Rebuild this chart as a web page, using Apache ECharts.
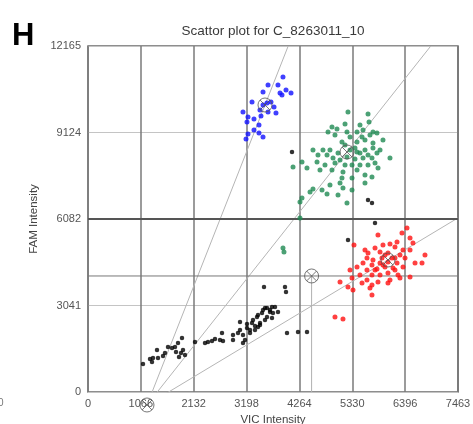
<!DOCTYPE html>
<html><head><meta charset="utf-8">
<script src="https://cdn.jsdelivr.net/npm/echarts@6/dist/echarts.min.js"></script>
<style>html,body{margin:0;padding:0;background:#fff}#c{width:473px;height:424px}</style>
</head><body><div id="c"></div>
<script>
// ---- data ----
const xMax = 7463, yMax = 12165;
const xTickLabels = ['0','1066','2132','3198','4264','5330','6396','7463'];
const yTickLabels = ['0','3041','6082','9124','12165'];
const famThreshold = 6082;
const midLevel = 4079;
const midX = 4510;

const blueAllele = [[3933,11075],[3631,10794],[3832,10794],[3530,10548],[3994,10618],[4095,10513],[3913,10443],[3308,10196],[3691,10196],[3530,10091],[3610,10161],[3752,10021],[3469,9915],[3631,9845],[3792,9810],[3126,9845],[3227,9669],[3207,9493],[3348,9599],[3489,9704],[3449,9388],[3348,9212],[3227,9071],[3449,9106],[3530,8966],[3187,8895],[3873,10513]];

const greenHet = [[5244,9845],[5648,9774],[5184,9423],[5486,9388],[5668,9493],[4921,9317],[5022,9247],[4841,9142],[5224,9142],[5426,9142],[5547,9212],[5748,9142],[5829,9106],[4982,9036],[5285,8966],[5527,8966],[5688,9036],[5123,8790],[5426,8790],[5748,8755],[5950,8860],[4740,8509],[4881,8509],[4538,8509],[5587,8509],[5748,8579],[5890,8509],[4639,8333],[4821,8333],[5043,8403],[5486,8403],[5648,8333],[5829,8403],[6091,8227],[4942,8227],[5224,8263],[5385,8192],[5547,8227],[4316,8087],[4619,8087],[4780,7981],[4982,8052],[5184,7981],[5325,7981],[5486,7981],[5648,7981],[5789,8052],[4135,7911],[4417,7876],[4679,7806],[4921,7806],[5143,7735],[5426,7806],[5587,7630],[5728,7559],[5123,7524],[5325,7524],[5083,7348],[4881,7278],[5143,7173],[5325,7102],[4538,7137],[4720,7102],[4478,7032],[4821,6962],[5043,6927],[4316,6821],[4276,6680],[5224,6645],[4276,6118],[3933,5063],[3953,4922],[5285,8509],[5385,8579],[5184,8685],[5587,8860],[5083,8157],[5426,8438],[5728,8227],[5587,7348],[5850,7876]];

const redAllele = [[6434,5766],[6333,5590],[5849,5520],[6495,5415],[6233,5274],[6555,5239],[5365,5169],[5950,5169],[6091,5204],[6192,5098],[5789,5063],[6354,4993],[5648,4887],[5890,4922],[6051,4887],[6293,4817],[6495,4993],[6797,4817],[5627,4711],[5748,4641],[5930,4711],[6192,4711],[6394,4711],[5547,4536],[5728,4465],[5890,4536],[6051,4571],[6233,4536],[6596,4536],[6737,4536],[5426,4395],[5627,4290],[5829,4325],[5990,4395],[6152,4360],[6354,4395],[5285,4290],[5486,4114],[5728,4114],[5890,4114],[6051,4184],[6253,4114],[6495,4043],[5325,4008],[5627,3938],[5849,3868],[6091,3938],[6293,4008],[5527,3832],[5728,3762],[6051,3832],[5083,3868],[5244,3692],[5345,3586],[5688,3657],[5728,3411],[4982,2637],[5143,2567],[5990,4817],[6131,4711],[5789,4290],[6192,4290],[5587,4993],[5950,4465]];

const blackUndetermined = [[1109,984],[1251,1160],[1291,1055],[1311,1195],[1392,1477],[1412,1195],[1513,1266],[1553,1371],[1614,1582],[1694,1547],[1755,1582],[1775,1406],[1815,1723],[1896,1899],[1876,1371],[1916,1477],[1956,1301],[1835,1231],[2158,1758],[2360,1723],[2420,1758],[2501,1793],[2562,1863],[2662,1828],[2703,2074],[2723,1793],[2925,2004],[2925,1828],[3026,2074],[3066,2461],[3066,2180],[3126,1723],[3126,2004],[3167,1828],[3207,2250],[3207,2391],[3268,2180],[3268,2074],[3308,2426],[3328,2532],[3368,2321],[3368,2180],[3409,2637],[3429,2285],[3429,2707],[3469,2426],[3510,2778],[3530,2883],[3570,2532],[3570,2953],[3610,2953],[3610,2637],[3671,2813],[3671,2883],[3711,2989],[3711,2602],[3731,2778],[3772,2989],[3832,2813],[3469,2356],[4014,2074],[4236,2110],[4417,2110],[3550,3692],[3973,3692],[3994,3516],[4115,8438],[5648,6751],[5728,6645],[5789,5942],[5244,5344]];

const centroids = [[3570,10091],[5224,8438],[6051,4641],[4510,4079],[1190,-457]];
const ntc = [1190,-457];
const rayEnds = [[4038,12165],[6914,12165],[7463,6122]];

// ---- chart ----
const xStep = xMax / 7, yStep = yMax / 4;
const chart = echarts.init(document.getElementById('c'), null, {renderer:'canvas'});
const ringPath = 'path://M0,10A10,10 0 1,0 20,10A10,10 0 1,0 0,10Z M3,3L17,17 M17,3L3,17';
const font = 'Liberation Sans, Arial, sans-serif';
const raySeries = rayEnds.map(e => ({
  type:'line', data:[ntc, e], symbol:'none', clip:true, silent:true,
  lineStyle:{color:'#b5b5b5', width:1}, z:1
}));
chart.setOption({
  animation:false,
  grid:{left:88, right:15, top:46, bottom:32, containLabel:false, outerBoundsMode:'none',
    show:true, borderColor:'#6a6a6a', borderWidth:1.5, backgroundColor:'#fff'},
  graphic:[
    {type:'text', left:12, top:21, style:{text:'H', font:'bold 31px '+font, fill:'#000'}},
    {type:'text', x:273, y:24, style:{text:'Scattor plot for C_8263011_10', font:'13.5px '+font, fill:'#3a3a3a', textAlign:'center'}},
    {type:'text', x:-2, y:398, style:{text:'0', font:'10px '+font, fill:'#777'}}
  ],
  xAxis:{
    type:'value', min:0, max:xMax, interval:xStep,
    name:'VIC Intensity', nameLocation:'middle', nameGap:21,
    nameTextStyle:{fontFamily:font, fontSize:11.5, color:'#444'},
    axisLine:{show:false}, axisTick:{show:false},
    axisLabel:{fontFamily:font, fontSize:11, color:'#555', margin:6,
      formatter:v => xTickLabels[Math.round(v / xStep)]},
    splitLine:{show:true, lineStyle:{color:'#7a7a7a', width:1.5}}
  },
  yAxis:{
    type:'value', min:0, max:yMax, interval:yStep,
    name:'FAM Intensity', nameLocation:'middle', nameGap:47,
    nameTextStyle:{fontFamily:font, fontSize:11.5, color:'#444'},
    axisLine:{show:false}, axisTick:{show:false},
    axisLabel:{fontFamily:font, fontSize:11, color:'#555', margin:7,
      formatter:v => yTickLabels[Math.round(v / yStep)]},
    splitLine:{show:true, lineStyle:{color:'#c4c4c4', width:1}}
  },
  series:[
    ...raySeries,
    {type:'line', data:[[0,famThreshold],[xMax,famThreshold]], symbol:'none', silent:true, lineStyle:{color:'#555', width:2}, z:2},
    {type:'line', data:[[0,midLevel],[xMax,midLevel]], symbol:'none', silent:true, lineStyle:{color:'#777', width:1}, z:2},
    {type:'line', data:[[midX,0],[midX,midLevel]], symbol:'none', silent:true, lineStyle:{color:'#b0b0b0', width:1}, z:2},
    {type:'scatter', data:blackUndetermined, symbol:'circle', symbolSize:4.5, itemStyle:{color:'#000'}, z:3},
    {type:'scatter', data:blueAllele, symbol:'circle', symbolSize:5, itemStyle:{color:'#1010ff'}, z:3},
    {type:'scatter', data:greenHet, symbol:'circle', symbolSize:5, itemStyle:{color:'#1f8a52'}, z:3},
    {type:'scatter', data:redAllele, symbol:'circle', symbolSize:5, itemStyle:{color:'#ff1010'}, z:3},
    {type:'scatter', data:centroids, symbol:ringPath, symbolSize:14, clip:false,
      itemStyle:{color:'rgba(0,0,0,0)', borderColor:'#555', borderWidth:1}, z:5}
  ]
});
</script></body></html>
